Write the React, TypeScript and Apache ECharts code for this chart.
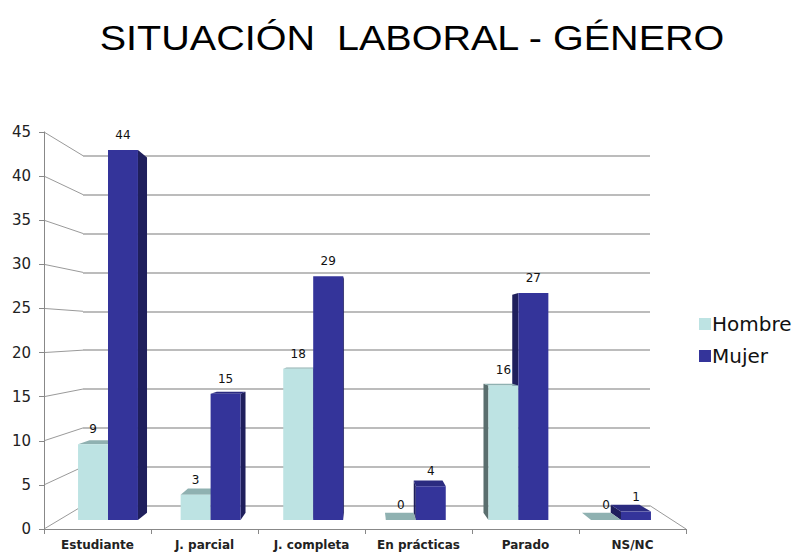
import React, { useEffect, useRef } from "react";
import * as echarts from "echarts";

const categories = ["Estudiante", "J. parcial", "J. completa", "En prácticas", "Parado", "NS/NC"];
const hombre = [9, 3, 18, 0, 16, 0];
const mujer = [44, 15, 29, 4, 27, 1];
const seriesNames = ["Hombre", "Mujer"];
const yTicks = [0, 5, 10, 15, 20, 25, 30, 35, 40, 45];
const titleText = "SITUACIÓN  LABORAL - GÉNERO";

const Y_MIN = yTicks[0];
const Y_MAX = yTicks[yTicks.length - 1];
const Y_STEP = yTicks[1] - yTicks[0];

// layout (front plane, back wall, bar plane)
const FRONT = { left: 44, top: 132, width: 642, height: 397 };
const BACK = { left: 83, top: 155.7, width: 567, height: 350 };
const BARS = { left: 56.7, top: 141.6, width: 615.6, height: 378.4 };

const COLORS = {
  hombre: { front: "#bde3e3", side: "#5a6e6e", top: "#8fb1b1" },
  mujer: { front: "#34349a", side: "#1f1f5c", top: "#2b2b80" },
};

function makeRender(sideIdx: number, pal: { front: string; side: string; top: string }) {
  return (params: any, api: any) => {
    const cs = params.coordSys;
    const cat = api.value(0);
    const val = api.value(1);
    const base = api.coord([cat, 0]);
    const topPt = api.coord([cat, val]);
    const band = api.size([1, 0])[0];
    const w = band * 0.292;
    const x0 = sideIdx === 0 ? base[0] - w : base[0];
    const x1 = x0 + w;
    const yT = topPt[1];
    const yB = base[1];
    const vx = cs.x + cs.width * 0.5;
    const vy = cs.y + cs.height * 0.525;
    const k = 0.96;
    const P = (x: number, y: number) => [vx + (x - vx) * k, vy + (y - vy) * k];
    const children: any[] = [];
    if (x1 < vx) {
      children.push({
        type: "polygon",
        z2: 1,
        shape: { points: [[x1, yT], P(x1, yT), P(x1, yB), [x1, yB]] },
        style: { fill: pal.side },
      });
    } else if (x0 > vx) {
      children.push({
        type: "polygon",
        z2: 1,
        shape: { points: [[x0, yT], P(x0, yT), P(x0, yB), [x0, yB]] },
        style: { fill: pal.side },
      });
    }
    if (yT > vy) {
      children.push({
        type: "polygon",
        z2: 2,
        shape: { points: [[x0, yT], [x1, yT], P(x1, yT), P(x0, yT)] },
        style: { fill: pal.top },
      });
    }
    if (yB - yT > 0.5) {
      children.push({
        type: "rect",
        z2: 3,
        shape: { x: x0, y: yT, width: w, height: yB - yT },
        style: { fill: pal.front },
      });
    }
    children.push({
      type: "text",
      z2: 10,
      style: {
        text: String(val),
        x: (x0 + x1) / 2,
        y: yT - 15,
        align: "center",
        verticalAlign: "middle",
        font: '12px "DejaVu Sans"',
        fill: "#111",
      },
    });
    return { type: "group", children };
  };
}

const titleGraphic = {
  type: "text",
  x: 412,
  y: 38,
  scaleX: 1.13,
  style: {
    text: titleText,
    x: 0,
    y: 0,
    align: "center",
    verticalAlign: "middle",
    font: '35px "Liberation Sans"',
    fill: "#000",
  },
};

export default function App() {
  const ref = useRef<HTMLDivElement>(null);
  useEffect(() => {
    if (!ref.current) return;
    const chart = echarts.init(ref.current, null, { renderer: "svg" });
    const option: any = {
      animation: false,
      backgroundColor: "#ffffff",
      legend: {
        data: seriesNames,
        orient: "vertical",
        left: 694,
        top: 309,
        icon: "rect",
        itemWidth: 12,
        itemHeight: 12,
        itemGap: 12,
        textStyle: { fontFamily: "DejaVu Sans", fontSize: 20, color: "#111", padding: [0, 0, 0, -4] },
      },
      grid: [
        { ...FRONT, containLabel: false },
        { ...BACK, containLabel: false },
        { ...BARS, containLabel: false },
      ],
      xAxis: [
        {
          type: "category",
          gridIndex: 0,
          data: categories,
          boundaryGap: true,
          axisLine: { show: true, lineStyle: { color: "#888", width: 1 } },
          axisTick: { show: true, length: 5, alignWithLabel: false, lineStyle: { color: "#888" } },
          axisLabel: {
            interval: 0,
            margin: 10,
            fontFamily: "DejaVu Sans",
            fontWeight: "bold",
            fontSize: 12,
            color: "#222",
          },
          splitLine: { show: false },
        },
        { type: "category", gridIndex: 1, data: categories, show: false },
        { type: "category", gridIndex: 2, data: categories, show: false },
      ],
      yAxis: [
        {
          type: "value",
          gridIndex: 0,
          min: Y_MIN,
          max: Y_MAX,
          interval: Y_STEP,
          axisLine: { show: true, lineStyle: { color: "#888", width: 1 } },
          axisTick: { show: true, length: 5, lineStyle: { color: "#888" } },
          axisLabel: { margin: 13, fontFamily: "DejaVu Sans", fontSize: 15, color: "#222" },
          splitLine: { show: false },
        },
        {
          type: "value",
          gridIndex: 1,
          min: Y_MIN,
          max: Y_MAX,
          interval: Y_STEP,
          axisLine: { show: false },
          axisTick: { show: false },
          axisLabel: { show: false },
          splitLine: { show: true, lineStyle: { color: "#a6a6a6", width: 1.5 } },
        },
        {
          type: "value",
          gridIndex: 2,
          min: Y_MIN,
          max: Y_MAX,
          interval: Y_STEP,
          show: false,
          splitLine: { show: false },
        },
      ],
      graphic: [titleGraphic],
      series: [
        {
          name: seriesNames[0],
          type: "custom",
          xAxisIndex: 2,
          yAxisIndex: 2,
          itemStyle: { color: COLORS.hombre.front },
          renderItem: makeRender(0, COLORS.hombre),
          data: hombre.map((v, i) => [i, v]),
          encode: { x: 0, y: 1 },
        },
        {
          name: seriesNames[1],
          type: "custom",
          xAxisIndex: 2,
          yAxisIndex: 2,
          itemStyle: { color: COLORS.mujer.front },
          renderItem: makeRender(1, COLORS.mujer),
          data: mujer.map((v, i) => [i, v]),
          encode: { x: 0, y: 1 },
        },
      ],
    };
    chart.setOption(option);

    const yf = (v: number) => chart.convertToPixel({ yAxisIndex: 0 } as any, v) as unknown as number;
    const yb = (v: number) => chart.convertToPixel({ yAxisIndex: 1 } as any, v) as unknown as number;
    const lineStyle = { stroke: "#9a9a9a", lineWidth: 1 };
    const connectors: any[] = yTicks.map((v) => ({
      type: "line",
      z: 0,
      shape: { x1: FRONT.left, y1: yf(v), x2: BACK.left, y2: yb(v) },
      style: lineStyle,
    }));
    connectors.push({
      type: "line",
      z: 0,
      shape: {
        x1: BACK.left + BACK.width,
        y1: yb(Y_MIN),
        x2: FRONT.left + FRONT.width,
        y2: yf(Y_MIN),
      },
      style: lineStyle,
    });
    chart.setOption({ graphic: [titleGraphic, ...connectors] });

    return () => chart.dispose();
  }, []);
  return <div ref={ref} style={{ position: "absolute", left: 0, top: 0, width: 794, height: 552 }} />;
}
